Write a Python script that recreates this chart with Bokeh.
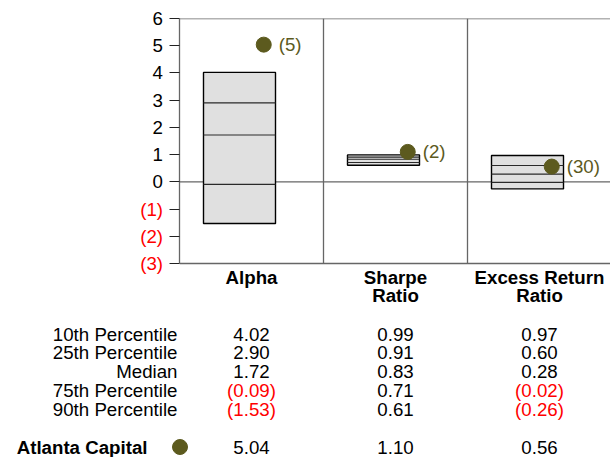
from bokeh.plotting import figure
from bokeh.models import ColumnDataSource, LinearAxis, FixedTicker, Range1d
from bokeh.layouts import column, row
from bokeh.embed import file_html
from bokeh.resources import INLINE
from bokeh.core.properties import value

# ---------------- data ----------------
categories = ["Alpha", "Sharpe\nRatio", "Excess Return\nRatio"]
p10 = [4.02, 0.99, 0.97]
p25 = [2.90, 0.91, 0.60]
median = [1.72, 0.83, 0.28]
p75 = [-0.09, 0.71, -0.02]
p90 = [-1.53, 0.61, -0.26]
fund_name = "Atlanta Capital"
fund_values = [5.04, 1.10, 0.56]
fund_ranks = [5, 2, 30]
row_labels = ["10th Percentile", "25th Percentile", "Median", "75th Percentile", "90th Percentile"]
y_ticks = [-3, -2, -1, 0, 1, 2, 3, 4, 5, 6]

# ---------------- style / layout ----------------
FONT = "Liberation Sans"
FS = "18.7px"
OLIVE = "#5C5A1E"
RED = "#FF0000"
GRAY = "#666666"
W = 610
H = 457
TOP_H = 306
BOT_H = H - TOP_H
LAB_W = 169          # width of the tick-label strip
TICK = 10
AXIS_X = LAB_W + TICK  # x of the value axis
FRAME_TOP = 18
Y_MIN, Y_MAX = -3, 6
PPU = 245 / 9.0      # pixels per value unit
BAND_PX = 144.0
BOX_L, BOX_R, DOT_X = 1 / 6, 2 / 3, 0.585


def fmt(v):
    return f"({abs(v):.2f})" if v < 0 else f"{v:.2f}"


def col(v):
    return RED if v < 0 else "#000000"


def tick_text(t):
    return f"({abs(t)})" if t < 0 else str(t)


def y_at(page_y):
    return Y_MAX - (page_y - FRAME_TOP) / PPU


n = len(categories)
idx = list(range(n))
y_low = y_at(TOP_H)

# ---------------- tick-label strip ----------------
lab = figure(width=LAB_W, height=TOP_H, x_range=Range1d(0, LAB_W),
             y_range=Range1d(y_low, Y_MAX + FRAME_TOP / PPU),
             x_axis_type=None, y_axis_type=None, toolbar_location=None,
             output_backend="svg", min_border=0, outline_line_color=None,
             background_fill_color="white", border_fill_color="white",
             frame_align=False)
lab.text(x=[LAB_W - 6.5] * len(y_ticks), y=y_ticks,
         text=[tick_text(t) for t in y_ticks],
         text_color=[col(t) for t in y_ticks],
         text_align="right", text_baseline="middle", text_font=value(FONT),
         text_font_size=FS)

# ---------------- chart ----------------
PW = W - LAB_W
p = figure(width=PW, height=TOP_H,
           x_range=Range1d(0, (PW - TICK) / BAND_PX), y_range=Range1d(y_low, Y_MAX),
           x_axis_type=None, y_axis_type=None, toolbar_location=None,
           output_backend="svg", min_border_left=TICK, min_border_right=0,
           min_border_top=FRAME_TOP, min_border_bottom=0,
           outline_line_color=None, background_fill_color="white",
           border_fill_color="white", frame_align=False)

x_end = (PW - TICK) / BAND_PX + 0.1
# frame lines and zero line
p.segment(x0=[0, 0, 0], x1=[x_end] * 3, y0=[Y_MAX, 0, Y_MIN], y1=[Y_MAX, 0, Y_MIN],
          line_color=GRAY, line_width=1.3)
# separators between categories
p.segment(x0=idx[1:], x1=idx[1:], y0=[Y_MIN] * (n - 1), y1=[Y_MAX] * (n - 1),
          line_color=GRAY, line_width=1.3)

box_src = ColumnDataSource(dict(
    left=[i + BOX_L for i in idx], right=[i + BOX_R for i in idx],
    p10=p10, p25=p25, med=median, p75=p75, p90=p90))
p.quad(left="left", right="right", bottom="p90", top="p10", source=box_src,
       fill_color="#E0E0E0", line_color="#000000", line_width=1.4)
for key in ["p25", "med", "p75"]:
    p.segment(x0="left", x1="right", y0=key, y1=key, source=box_src,
              line_color="#2A2A2A", line_width=1.2)

dot_src = ColumnDataSource(dict(x=[i + DOT_X for i in idx], y=fund_values,
                                rank=[f"({r})" for r in fund_ranks]))
p.scatter(x="x", y="y", size=15, source=dot_src, fill_color=OLIVE, line_color=OLIVE)
p.text(x="x", y="y", text="rank", source=dot_src, x_offset=15,
       text_baseline="middle", text_align="left", text_font=value(FONT),
       text_font_size=FS, text_color=OLIVE)

ax = LinearAxis(ticker=FixedTicker(ticks=y_ticks), bounds=(Y_MIN, Y_MAX),
                major_label_overrides={t: "" for t in y_ticks},
                axis_line_color=GRAY, axis_line_width=1.3,
                major_tick_line_color="#222222", major_tick_line_width=1.2,
                major_tick_out=TICK, major_tick_in=0, minor_tick_line_color=None,
                major_label_standoff=0, major_label_text_font_size="0px")
p.add_layout(ax, "left")

line1 = [c.split("\n")[0] for c in categories]
line2 = [c.split("\n")[1] if "\n" in c else "" for c in categories]
cat_x = [i + 0.5 for i in idx]
for py, lines in [(276.5, line1), (295.0, line2)]:
    p.text(x=cat_x, y=[y_at(py)] * n, text=lines, text_align="center",
           text_baseline="middle", text_font=value(FONT), text_font_size=FS,
           text_font_style="bold", text_color="#000000")

# ---------------- table ----------------
q = figure(width=W, height=BOT_H,
           x_range=Range1d(-AXIS_X / BAND_PX, (W - AXIS_X) / BAND_PX),
           y_range=Range1d(BOT_H, 0), x_axis_type=None, y_axis_type=None,
           toolbar_location=None, output_backend="svg", min_border=0,
           outline_line_color=None, background_fill_color="white",
           border_fill_color="white", frame_align=False)

row_y = [333.5 - TOP_H + 18.8 * i for i in range(len(row_labels))]
q.text(x=[0] * len(row_labels), y=row_y, text=row_labels, x_offset=-2,
       text_align="right", text_baseline="middle", text_font=value(FONT),
       text_font_size=FS, text_color="#000000")

stats = [p10, p25, median, p75, p90]
tx, ty, tt, tc = [], [], [], []
for r, series in enumerate(stats):
    for i in idx:
        tx.append(i + 0.5)
        ty.append(row_y[r])
        tt.append(fmt(series[i]))
        tc.append(col(series[i]))
fund_y = 446.5 - TOP_H
for i in idx:
    tx.append(i + 0.5)
    ty.append(fund_y)
    tt.append(fmt(fund_values[i]))
    tc.append(col(fund_values[i]))
val_src = ColumnDataSource(dict(x=tx, y=ty, text=tt, color=tc))
q.text(x="x", y="y", text="text", text_color="color", source=val_src,
       text_align="center", text_baseline="middle", text_font=value(FONT),
       text_font_size=FS)

q.text(x=[0], y=[fund_y], text=[fund_name], x_offset=-32, text_align="right",
       text_baseline="middle", text_font=value(FONT), text_font_size=FS,
       text_font_style="bold", text_color="#000000")
q.scatter(x=[0.5 / BAND_PX], y=[fund_y], size=15, fill_color=OLIVE, line_color=OLIVE)

layout = column(row(lab, p, spacing=0), q, spacing=0)
open("out.html", "w").write(file_html(layout, INLINE))
